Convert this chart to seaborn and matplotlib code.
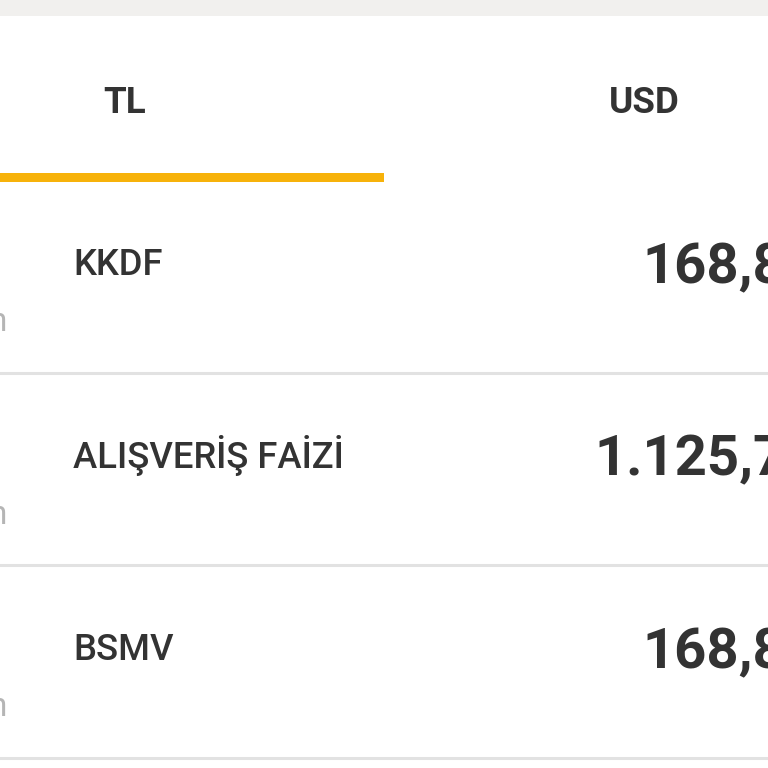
"""Payment breakdown screen: TL / USD tabs with three fee rows."""
import matplotlib
matplotlib.use('Agg')
import matplotlib.pyplot as plt
import seaborn as sns

tabs = ['TL', 'USD']
row_labels = ['KKDF', 'ALIŞVERİŞ FAİZİ', 'BSMV']
row_values = ['168,8', '1.125,7', '168,8']
clipped_hint = 'n'

TEXT = '#333333'
ACCENT = '#f7b20a'
DIVIDER = '#e2e2e2'
STRIP = '#f1f0ee'
ROW_H = 192.5

sns.set_theme(style='white')
plt.rcParams['font.family'] = ['Roboto', 'DejaVu Sans']

fig = plt.figure(figsize=(7.68, 7.68), dpi=100)
ax = fig.add_axes([0, 0, 1, 1])
ax.set_xlim(0, 768)
ax.set_ylim(768, 0)
ax.axis('off')

# top grey strip and active tab underline
ax.axhspan(0, 15.5, color=STRIP, lw=0)
ax.fill_between([0, 384], 173, 181.5, color=ACCENT, lw=0)

# tabs
for name, x in zip(tabs, [125, 644]):
    ax.text(x, 113, name, ha='center', va='baseline', fontsize=26.5,
            fontweight='bold', color=TEXT)

# rows
for i, (label, value) in enumerate(zip(row_labels, row_values)):
    ax.text(73, 275 + i * ROW_H, label, va='baseline', fontsize=26.2,
            fontweight='medium', color=TEXT)
    value_x = 642 if len(value) < 6 else 594.5
    ax.text(value_x, 283 + i * ROW_H, value, va='baseline', fontsize=40.5,
            fontweight='bold', color=TEXT, clip_on=True)
    ax.text(-11, 331 + i * ROW_H, clipped_hint, va='baseline', fontsize=24,
            color='#b5b5b5', clip_on=True)
    ax.axhline(372.8 + i * ROW_H, color=DIVIDER, lw=2.2)

fig.savefig('out.png', dpi=100, facecolor='white')
